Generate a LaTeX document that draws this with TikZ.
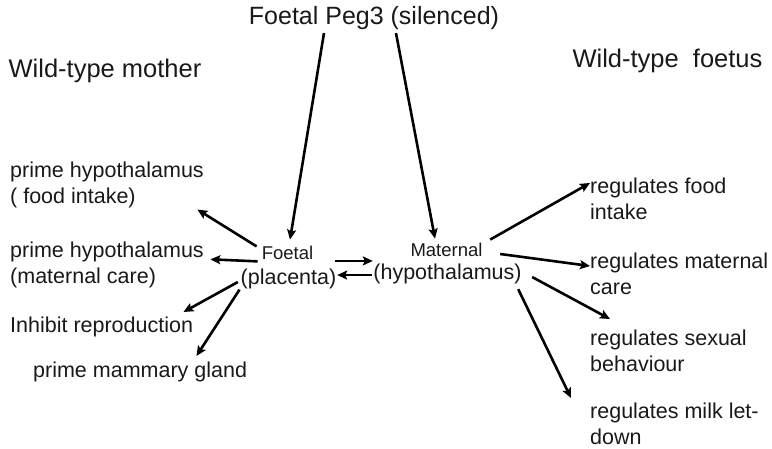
\documentclass[tikz,border=0pt]{standalone}
\usepackage{fontspec}
\setmainfont{Liberation Sans}
\usetikzlibrary{arrows.meta}
\tikzset{
  txt/.style={inner sep=0, text=black!90, align=left, anchor=north west,
    font=\fontsize{21.5}{25.8}\selectfont},
  big/.style={txt, anchor=base, font=\fontsize{25.5}{30}\selectfont},
  small/.style={txt, anchor=base, font=\fontsize{18.5}{22}\selectfont},
  arr/.style={line width=2.6pt, -{Stealth[length=10pt,width=9pt,inset=2pt]}}
}

\begin{document}
\begin{tikzpicture}[x=1pt,y=-1pt]
\useasboundingbox (0,0) rectangle (772,449);
\node [big, font=\fontsize{25}{30}\selectfont] (peg) at (374,25) {Foetal Peg3 (silenced)};
\node [big] (mother) at (105,78) {Wild-type mother};
\node [big] (foetus) at (667.5,68) {Wild-type\ \ foetus};
\node [small] (foetal) at (287.5,260) {Foetal};
\node [txt, anchor=base] (placenta) at (288.5,285) {(placenta)};
\node [small] (maternal) at (446.5,257) {Maternal};
\node [txt, anchor=base] (hypo) at (447.5,280) {(hypothalamus)};
\node [txt] (food) at (10,161.6) {prime hypothalamus\\( food intake)};
\node [txt] (care) at (10,241.6) {prime hypothalamus\\(maternal care)};
\node [txt] (repro) at (10,316.6) {Inhibit reproduction};
\node [txt] (gland) at (33,361.6) {prime mammary gland};
\node [txt] (regfood) at (590,177.6) {regulates food\\intake};
\node [txt] (regcare) at (590,252.6) {regulates maternal\\care};
\node [txt] (regsex) at (590,329.6) {regulates sexual\\behaviour};
\node [txt] (regmilk) at (590,402.6) {regulates milk let-\\down};
\draw [arr] ([xshift=-50pt,yshift=-2.7pt]peg.south) -- ([xshift=2.5pt,yshift=6.8pt]foetal.north);
\draw [arr] ([xshift=22pt,yshift=-2.7pt]peg.south) -- ([xshift=-11.5pt,yshift=4.8pt]maternal.north);
\draw [arr] ([xshift=-5pt]foetal.north west) -- ([xshift=-6.6pt,yshift=-1.7pt]food.south east);
\draw [arr] ([xshift=-4pt,yshift=-1pt]foetal.south west) -- ([xshift=6.4pt,yshift=5.4pt]care.east);
\draw [arr] ([xshift=-2.7pt,yshift=-2.6pt]placenta.west) -- ([xshift=-9.8pt,yshift=4.6pt]repro.north east);
\draw [arr] ([xshift=-1pt]placenta.south west) -- ([xshift=-50.8pt,yshift=5.6pt]gland.north east);
\draw [arr] ([xshift=-1.3pt,yshift=8.3pt]placenta.north east) -- ([xshift=-0.4pt,yshift=3.3pt]hypo.north west);
\draw [arr] ([xshift=-1.4pt,yshift=-0.6pt]hypo.west) -- ([xshift=0.7pt,yshift=4.4pt]placenta.east);
\draw [arr] ([xshift=7.5pt,yshift=3.8pt]maternal.north east) -- ([yshift=-5.4pt]regfood.north west);
\draw [arr] ([xshift=17.5pt,yshift=-3.6pt]maternal.east) -- ([yshift=-13.4pt]regcare.north west);
\draw [arr] ([xshift=10.4pt,yshift=-2.6pt]hypo.east) -- ([xshift=20pt,yshift=10.6pt]regsex.north west);
\draw [arr] ([xshift=-3.6pt,yshift=-4.5pt]hypo.south east) -- ([xshift=-19pt,yshift=4.6pt]regmilk.north west);
\end{tikzpicture}
\end{document}
